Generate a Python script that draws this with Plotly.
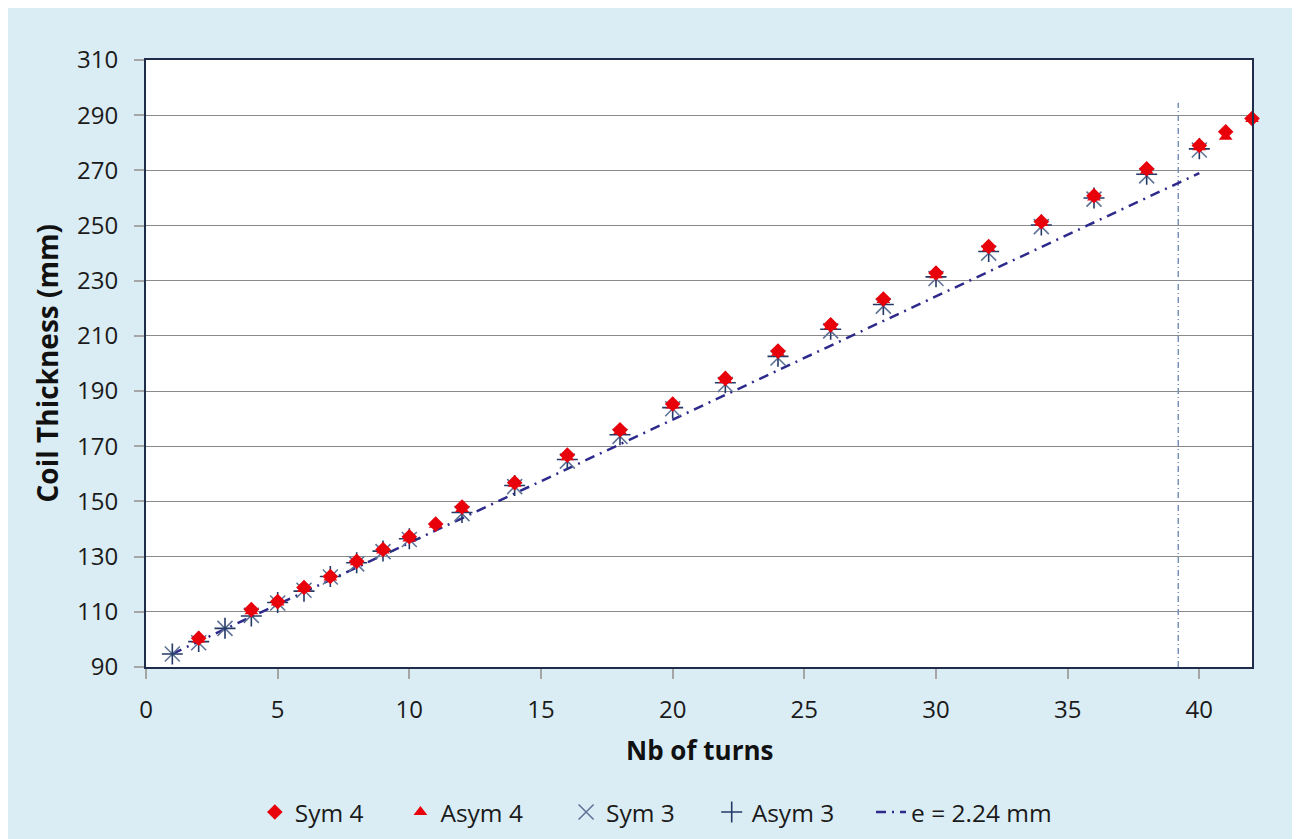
import plotly.graph_objects as go

# ---- data ----
turns_4 = [2, 4, 5, 6, 7, 8, 9, 10, 11, 12, 14, 16, 18, 20, 22, 24, 26, 28, 30, 32, 34, 36, 38, 40, 41, 42]
sym4 = [100.4, 110.8, 113.7, 118.8, 122.8, 128.3, 132.6, 137.2, 141.8, 148.0, 156.8, 166.8, 176.0, 185.3,
        194.6, 204.5, 214.0, 223.4, 232.8, 242.4, 251.4, 260.8, 270.6, 279.0, 284.0, 288.8]
asym4 = [100.0, 110.2, 113.4, 118.3, 122.4, 128.0, 132.2, 136.6, 141.6, 147.3, 156.4, 166.0, 175.4, 184.8,
         194.0, 203.9, 213.5, 223.0, 232.0, 241.8, 251.0, 260.2, 269.9, 278.4, 282.2, 288.6]

turns_3 = [1, 2, 3, 4, 5, 6, 7, 8, 9, 10, 12, 14, 16, 18, 20, 22, 24, 26, 28, 30, 32, 34, 36, 38, 40]
sym3 = [94.7, 98.8, 104.0, 108.7, 113.2, 117.8, 122.6, 127.4, 131.8, 136.2, 145.6, 155.4, 164.6, 173.6,
        183.6, 192.4, 202.0, 211.8, 220.8, 230.8, 240.0, 249.6, 259.6, 268.0, 277.4]
asym3 = [94.7, 99.2, 104.0, 108.5, 113.4, 117.5, 122.8, 127.8, 132.0, 136.5, 146.0, 155.8, 165.2, 174.2,
         184.0, 193.0, 202.6, 212.4, 221.4, 231.4, 240.6, 250.2, 260.0, 268.6, 277.8]

line_x = [1, 40]
line_y = [94.8, 269.0]

vline_x = [39.2, 39.2]
vline_y = [90, 294.5]

x_ticks = [0, 5, 10, 15, 20, 25, 30, 35, 40]
y_ticks = [90, 110, 130, 150, 170, 190, 210, 230, 250, 270, 290, 310]

FONT = "Open Sans"
BG = "#DAEDF4"
NB = "\u00a0"

fig = go.Figure()

fig.add_trace(go.Scatter(x=vline_x, y=vline_y, mode="lines", showlegend=False, hoverinfo="skip",
                         line=dict(color="#7891B5", width=1.5, dash="6px,3px,1px,3px")))

fig.add_trace(go.Scatter(x=line_x, y=line_y, mode="lines", name="e = 2.24 mm", legendrank=5,
                         line=dict(color="#2E2A8C", width=2.5, dash="10px,6px,2px,6px")))

fig.add_trace(go.Scatter(x=turns_3, y=sym3, mode="markers", name="Sym 3" + NB * 5, legendrank=3,
                         cliponaxis=False,
                         marker=dict(symbol="x-thin", size=15, line=dict(color="#5F7396", width=1.6))))
fig.add_trace(go.Scatter(x=turns_3, y=asym3, mode="markers", name="Asym 3" + NB * 5, legendrank=4,
                         cliponaxis=False,
                         marker=dict(symbol="cross-thin", size=15, line=dict(color="#243A66", width=1.6))))
fig.add_trace(go.Scatter(x=turns_4, y=asym4, mode="markers", name="Asym 4" + NB * 6, legendrank=2,
                         cliponaxis=False,
                         marker=dict(symbol="triangle-up", size=12, color="#E8000B")))
fig.add_trace(go.Scatter(x=turns_4, y=sym4, mode="markers", name="Sym 4" + NB * 5, legendrank=1,
                         cliponaxis=False,
                         marker=dict(symbol="diamond", size=12, color="#E8000B")))

fig.update_layout(
    width=1300, height=839,
    margin=dict(l=138, r=56, t=52, b=175),
    paper_bgcolor=BG, plot_bgcolor="white",
    font=dict(family=FONT, size=24, color="#1A1A1A"),
    showlegend=True,
    legend=dict(orientation="h", x=0.0984, xanchor="left", y=-0.239, yanchor="middle",
                traceorder="normal", font=dict(size=24.5, color="#1A1A1A"),
                bgcolor="rgba(0,0,0,0)"),
    xaxis=dict(range=[0, 42], tickvals=x_ticks, showgrid=False, zeroline=False,
               showline=True, linecolor="#1F2D4A", linewidth=2, mirror=True,
               ticks="outside", ticklen=10, tickwidth=1.5, tickcolor="#A6A6A6",
               ticklabelstandoff=10),
    yaxis=dict(range=[90, 310], tickvals=y_ticks, showgrid=True, gridcolor="#8A8A8A", gridwidth=1.4,
               zeroline=False, showline=True, linecolor="#1F2D4A", linewidth=2, mirror=True,
               ticks="outside", ticklen=10, tickwidth=1.5, tickcolor="#A6A6A6",
               ticklabelstandoff=11),
    annotations=[
        dict(text="<b>Nb of turns</b>", xref="paper", yref="paper", x=0.5, y=-(78 + 6) / 612,
             xanchor="center", yanchor="middle", showarrow=False,
             font=dict(family=FONT, size=26, color="#111111")),
        dict(text="<b>Coil Thickness (mm)</b>", xref="paper", yref="paper", x=-100 / 1106,
             y=0.5, xanchor="center", yanchor="middle", textangle=-90, showarrow=False,
             font=dict(family=FONT, size=28, color="#111111")),
    ],
)

fig.write_html("out.html")
